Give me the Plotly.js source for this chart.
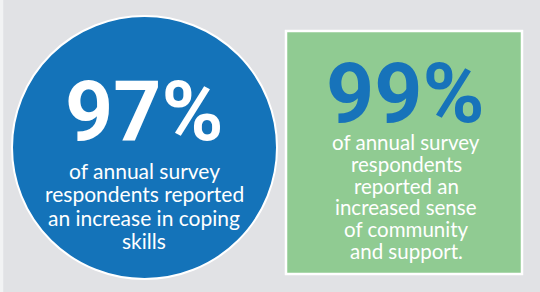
<!DOCTYPE html>
<html><head><meta charset="utf-8">
<script src="https://cdn.plot.ly/plotly-3.0.1.min.js"></script>
<style>html,body{margin:0;padding:0;background:#e1e2e5;}#chart{width:540px;height:292px;}</style>
</head><body><div id="chart"></div>
<script>
const statValues = [97, 99];
const statLabels = ["97%", "99%"];
const leftLines = ["of annual survey", "respondents reported", "an increase in coping", "skills"];
const rightLines = ["of annual survey", "respondents", "reported an", "increased sense", "of community", "and support."];

const bodyFont = "Lato, 'Open Sans', sans-serif";
const bigFont = "Roboto, 'Open Sans', sans-serif";

const annotations = [];
annotations.push({x: 144, y: 111, xref: 'x', yref: 'y', text: '<b>' + statValues[0] + '%</b>', showarrow: false,
  font: {family: bigFont, size: 84, color: '#ffffff'}, xanchor: 'center', yanchor: 'middle'});
annotations.push({x: 405, y: 93, xref: 'x', yref: 'y', text: '<b>' + statValues[1] + '%</b>', showarrow: false,
  font: {family: bigFont, size: 84, color: '#1773ba'}, xanchor: 'center', yanchor: 'middle'});
leftLines.forEach((t, i) => annotations.push({x: 144, y: 170 + i * 23.5, xref: 'x', yref: 'y', text: t, showarrow: false,
  font: {family: bodyFont, size: 21, color: '#ffffff'}, xanchor: 'center', yanchor: 'middle'}));
rightLines.forEach((t, i) => annotations.push({x: 406, y: 142 + i * 21.8, xref: 'x', yref: 'y', text: t, showarrow: false,
  font: {family: bodyFont, size: 20.5, color: '#ffffff'}, xanchor: 'center', yanchor: 'middle'}));

const layout = {
  width: 540, height: 292,
  margin: {l: 0, r: 0, t: 0, b: 0},
  paper_bgcolor: '#e1e2e5', plot_bgcolor: '#e1e2e5',
  showlegend: false,
  xaxis: {range: [0, 540], visible: false, fixedrange: true},
  yaxis: {range: [292, 0], visible: false, fixedrange: true},
  shapes: [
    {type: 'rect', xref: 'paper', yref: 'paper', x0: 0, x1: 0.006, y0: 0, y1: 1, fillcolor: '#f2f3f4', line: {width: 0}},
    {type: 'circle', xref: 'x', yref: 'y', x0: 12, x1: 277, y0: 16, y1: 279, fillcolor: '#1473b9', line: {color: '#ffffff', width: 2}},
    {type: 'rect', xref: 'x', yref: 'y', x0: 286, x1: 522, y0: 31, y1: 274, fillcolor: '#90cb92', line: {color: '#ffffff', width: 2.5}}
  ],
  annotations: annotations
};
Plotly.newPlot('chart', [], layout, {displayModeBar: false, staticPlot: true});
</script></body></html>
